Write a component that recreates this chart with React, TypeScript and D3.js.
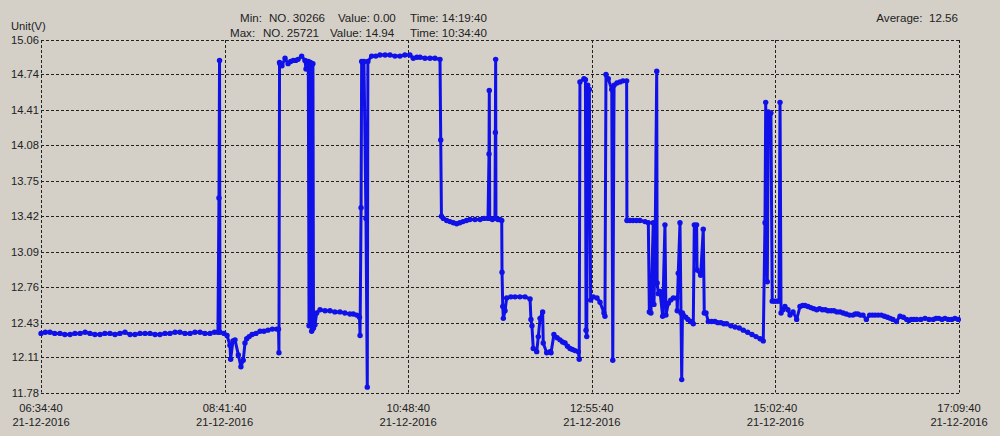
import * as d3 from "d3";

// minutes after 06:34:40, volts
const readings: [number, number][] = [
  [0, 12.33], [3.0, 12.34], [6.2, 12.34], [9.5, 12.33], [13.1, 12.33], [16.5, 12.32], [20.1, 12.32],
  [23.5, 12.33], [27.0, 12.33], [30.5, 12.34], [33.9, 12.33], [37.3, 12.32], [40.8, 12.32],
  [44.2, 12.33], [47.7, 12.33], [51.2, 12.32], [54.6, 12.33], [58.1, 12.34], [61.6, 12.32],
  [65.0, 12.32], [68.5, 12.33], [72.0, 12.33], [75.4, 12.33], [78.9, 12.32], [82.3, 12.32],
  [85.8, 12.33], [89.2, 12.33], [92.7, 12.34], [96.1, 12.34], [99.6, 12.33], [103.1, 12.33],
  [106.5, 12.34], [110.0, 12.34], [113.4, 12.33], [116.9, 12.33], [120.0, 12.34],
  [122.4, 12.34], [123.1, 13.59], [123.5, 14.87], [123.8, 12.34],
  [126.6, 12.33], [128.7, 12.31], [130.7, 12.22], [131.2, 12.09], [132.8, 12.26], [134.2, 12.27],
  [136.5, 12.13], [138.3, 12.02], [139.9, 12.08], [141.1, 12.24], [142.3, 12.28], [144.0, 12.30],
  [146.0, 12.32], [148.7, 12.33], [151.5, 12.35], [154.2, 12.35], [157.0, 12.36], [160.0, 12.37],
  [163.0, 12.37], [164.3, 12.37], [164.6, 12.15], [165.0, 14.85],
  [165.3, 14.84], [166.7, 14.82], [168.8, 14.89], [170.9, 14.84], [172.7, 14.86], [174.5, 14.87],
  [176.2, 14.87], [177.8, 14.88], [180.3, 14.91], [182.6, 14.87], [183.3, 14.79], [184.0, 14.86],
  [184.9, 14.86], [185.4, 12.40], [186.1, 12.41], [186.4, 14.85], [186.8, 14.84], [187.2, 12.35],
  [187.8, 12.37], [188.1, 14.84], [188.5, 12.38], [189.5, 12.41], [190.7, 12.52], [193.0, 12.55],
  [196.5, 12.54], [199.9, 12.54], [203.3, 12.53], [206.8, 12.53], [210.2, 12.52], [213.7, 12.51],
  [216.0, 12.51], [218.4, 12.50], [220.3, 12.48], [220.7, 12.31], [221.4, 13.50], [221.8, 14.86],
  [222.7, 14.85], [223.4, 14.86], [224.8, 13.40], [225.7, 11.83], [226.1, 14.86], [228.7, 14.91],
  [231.6, 14.91], [234.5, 14.92], [238.0, 14.92], [241.4, 14.92], [244.8, 14.91], [248.3, 14.91],
  [251.7, 14.92], [255.2, 14.92], [257.5, 14.89], [260.0, 14.90], [262.2, 14.90], [265.6, 14.89],
  [269.1, 14.89], [272.5, 14.89], [276.0, 14.88], [276.5, 14.13], [277.0, 13.42], [278.3, 13.40],
  [280.6, 13.38], [282.9, 13.37], [285.2, 13.36], [287.5, 13.35], [289.7, 13.36], [291.9, 13.37],
  [294.3, 13.38], [296.7, 13.39], [300.2, 13.39], [303.7, 13.39], [306.5, 13.40], [309.2, 13.40],
  [309.9, 14.0], [310.1, 14.59], [310.4, 13.40], [312.2, 13.39], [314.0, 13.40], [314.3, 14.2],
  [314.5, 14.88], [314.7, 13.40], [316.1, 13.39], [317.5, 13.39], [318.7, 13.38], [318.9, 12.9],
  [319.4, 12.58], [319.8, 12.47], [321.0, 12.54], [322.1, 12.66], [325.0, 12.67], [327.9, 12.67],
  [331.3, 12.67], [334.8, 12.67], [338.3, 12.65], [338.9, 12.46], [339.6, 12.40], [340.5, 12.19],
  [342.9, 12.16], [344.0, 12.30], [345.2, 12.47], [347.0, 12.53], [347.4, 12.24], [349.8, 12.15],
  [352.1, 12.16], [352.8, 12.15], [354.8, 12.32], [357.0, 12.29], [359.0, 12.27], [360.8, 12.25],
  [362.5, 12.24], [364.2, 12.21], [365.9, 12.19], [367.6, 12.18], [369.4, 12.17], [371.7, 12.16],
  [372.3, 12.09], [372.8, 14.67], [375.6, 14.70], [376.6, 14.69], [377.0, 12.36], [377.5, 12.30],
  [378.2, 14.64], [379.3, 14.60], [380.2, 12.64], [382.0, 12.67], [384.6, 12.66], [386.7, 12.62],
  [389.4, 12.52], [390.1, 12.49], [390.8, 14.74], [392.4, 14.70], [394.8, 14.60], [395.5, 12.08],
  [396.4, 14.64], [398.4, 14.66], [400.5, 14.67], [402.6, 14.68], [405.1, 14.68], [405.3, 13.38],
  [407.4, 13.38], [409.5, 13.38], [411.9, 13.38], [414.3, 13.38], [417.8, 13.37], [420.1, 13.36],
  [420.8, 12.53], [421.9, 12.52], [423.5, 13.36], [424.0, 12.60], [424.7, 13.0], [425.9, 14.77],
  [426.2, 12.80], [427.0, 12.70], [428.2, 12.72], [430.0, 12.49], [431.6, 13.34], [432.3, 12.50],
  [433.9, 12.61], [435.6, 12.64], [437.4, 12.66], [439.9, 12.66], [440.1, 12.54], [440.8, 12.89],
  [442.0, 13.36], [442.7, 12.52], [443.2, 11.90], [443.7, 12.52], [444.3, 12.50], [446.0, 12.48],
  [447.5, 12.46], [449.3, 12.44], [451.2, 12.42], [451.9, 13.34], [453.5, 13.34], [453.8, 12.92],
  [456.3, 12.87], [458.1, 13.30], [458.8, 12.52], [460.0, 12.52], [461.6, 12.44], [463.9, 12.44],
  [466.2, 12.44], [468.2, 12.43], [470.3, 12.43], [472.3, 12.42], [474.3, 12.42], [477.2, 12.40],
  [480.1, 12.39], [483.0, 12.38], [485.8, 12.36], [488.8, 12.34], [491.8, 12.32], [494.6, 12.30],
  [497.4, 12.28], [499.6, 12.26], [500.8, 13.36], [501.3, 14.48], [502.4, 12.81], [503.1, 14.39],
  [504.9, 14.38], [505.8, 12.63], [507.3, 12.63], [508.9, 12.63], [510.5, 12.63], [511.2, 14.48],
  [511.9, 12.52], [513.2, 12.55], [514.6, 12.58], [516.7, 12.55], [518.1, 12.50], [520.2, 12.53],
  [522.7, 12.46], [525.0, 12.58], [526.8, 12.59], [528.5, 12.59], [530.5, 12.58], [532.5, 12.57],
  [534.5, 12.56], [536.6, 12.55], [538.5, 12.56], [540.5, 12.55], [542.5, 12.55], [544.4, 12.54],
  [546.5, 12.54], [548.5, 12.54], [550.6, 12.53], [552.7, 12.53], [554.8, 12.52], [557.0, 12.51],
  [559.3, 12.50], [561.6, 12.50], [563.3, 12.51], [565.0, 12.51], [566.8, 12.50], [568.6, 12.50],
  [570.9, 12.46], [573.2, 12.50], [575.1, 12.50], [577.0, 12.50], [579.1, 12.50], [581.3, 12.50],
  [583.4, 12.49], [585.5, 12.48], [587.4, 12.47], [589.3, 12.46], [591.7, 12.44], [594.2, 12.49],
  [596.5, 12.48], [598.8, 12.46], [600.4, 12.45], [602.0, 12.46], [603.8, 12.46], [605.7, 12.46],
  [608.6, 12.46], [611.5, 12.47], [614.3, 12.46], [617.2, 12.46], [619.1, 12.47], [621.0, 12.47],
  [623.2, 12.46], [625.3, 12.47], [627.6, 12.46], [630.0, 12.46], [632.2, 12.47], [634.5, 12.46],
];

const yTicks = [15.06, 14.74, 14.41, 14.08, 13.75, 13.42, 13.09, 12.76, 12.43, 12.11, 11.78];
const xTicks = [0, 127, 254, 381, 508, 635];
const startSeconds = 6 * 3600 + 34 * 60 + 40;
const dateLabel = "21-12-2016";

const minParts = ["Min:", "NO. 30266", "Value: 0.00", "Time: 14:19:40"];
const maxParts = ["Max:", "NO. 25721", "Value: 14.94", "Time: 10:34:40"];
const averageLine = "Average:  12.56";

const W = 1000;
const H = 436;
const margin = { top: 40, right: 41, bottom: 43.5, left: 41 };

function clock(m: number) {
  const s = Math.round(startSeconds + m * 60);
  const pad = (n: number) => String(n).padStart(2, "0");
  return `${pad(Math.floor(s / 3600))}:${pad(Math.floor((s % 3600) / 60))}:${pad(s % 60)}`;
}

export default function App() {
  const x = d3.scaleLinear().domain([0, 635]).range([margin.left, W - margin.right]);
  const y = d3.scaleLinear().domain([11.78, 15.06]).range([H - margin.bottom, margin.top]);
  const line = d3
    .line<[number, number]>()
    .x((d) => x(d[0]))
    .y((d) => y(d[1]));

  const font = "'Liberation Sans', Arial, sans-serif";
  const blue = "#1010e8";
  const ink = "#222";
  // column starts of the min / max header rows
  const minCols = [240, 269, 338, 410];
  const maxCols = [230, 263, 330, 410];

  return (
    <svg
      width={W}
      height={H}
      style={{ position: "absolute", left: 0, top: 0, background: "#d4d0c8" }}
      fontFamily={font}
      fontSize={11.2}
    >
      <rect width={W} height={H} fill="#d4d0c8" />
      {/* grid */}
      {yTicks.map((t) => (
        <line
          key={"gy" + t}
          x1={x(0)}
          x2={x(635)}
          y1={Math.round(y(t)) + 0.5}
          y2={Math.round(y(t)) + 0.5}
          stroke={ink}
          strokeDasharray="3,2"
        />
      ))}
      {xTicks.map((t) => (
        <line
          key={"gx" + t}
          x1={Math.round(x(t)) + 0.5}
          x2={Math.round(x(t)) + 0.5}
          y1={y(15.06)}
          y2={y(11.78)}
          stroke={ink}
          strokeDasharray="3,2"
        />
      ))}
      {yTicks.map((t) => (
        <text key={"ly" + t} x={x(0) - 2} y={y(t) + 4} textAnchor="end" fill={ink}>
          {t.toFixed(2)}
        </text>
      ))}
      {xTicks.map((t) => (
        <g key={"lx" + t} fill={ink} textAnchor="middle">
          <text x={x(t)} y={H - 24}>{clock(t)}</text>
          <text x={x(t)} y={H - 10}>{dateLabel}</text>
        </g>
      ))}
      <text x={11} y={30} fill={ink}>Unit(V)</text>
      <g fontSize={11.6} fill={ink}>
        {minParts.map((p, i) => (
          <text key={"mn" + i} x={minCols[i]} y={22}>{p}</text>
        ))}
        {maxParts.map((p, i) => (
          <text key={"mx" + i} x={maxCols[i]} y={37}>{p}</text>
        ))}
        <text x={958} y={22} textAnchor="end" style={{ whiteSpace: "pre" }}>{averageLine}</text>
      </g>
      {/* series */}
      <path d={line(readings) ?? ""} fill="none" stroke={blue} strokeWidth={3} strokeLinejoin="round" />
      {readings.map((d, i) => (
        <circle key={i} cx={x(d[0])} cy={y(d[1])} r={2.7} fill={blue} />
      ))}
    </svg>
  );
}
